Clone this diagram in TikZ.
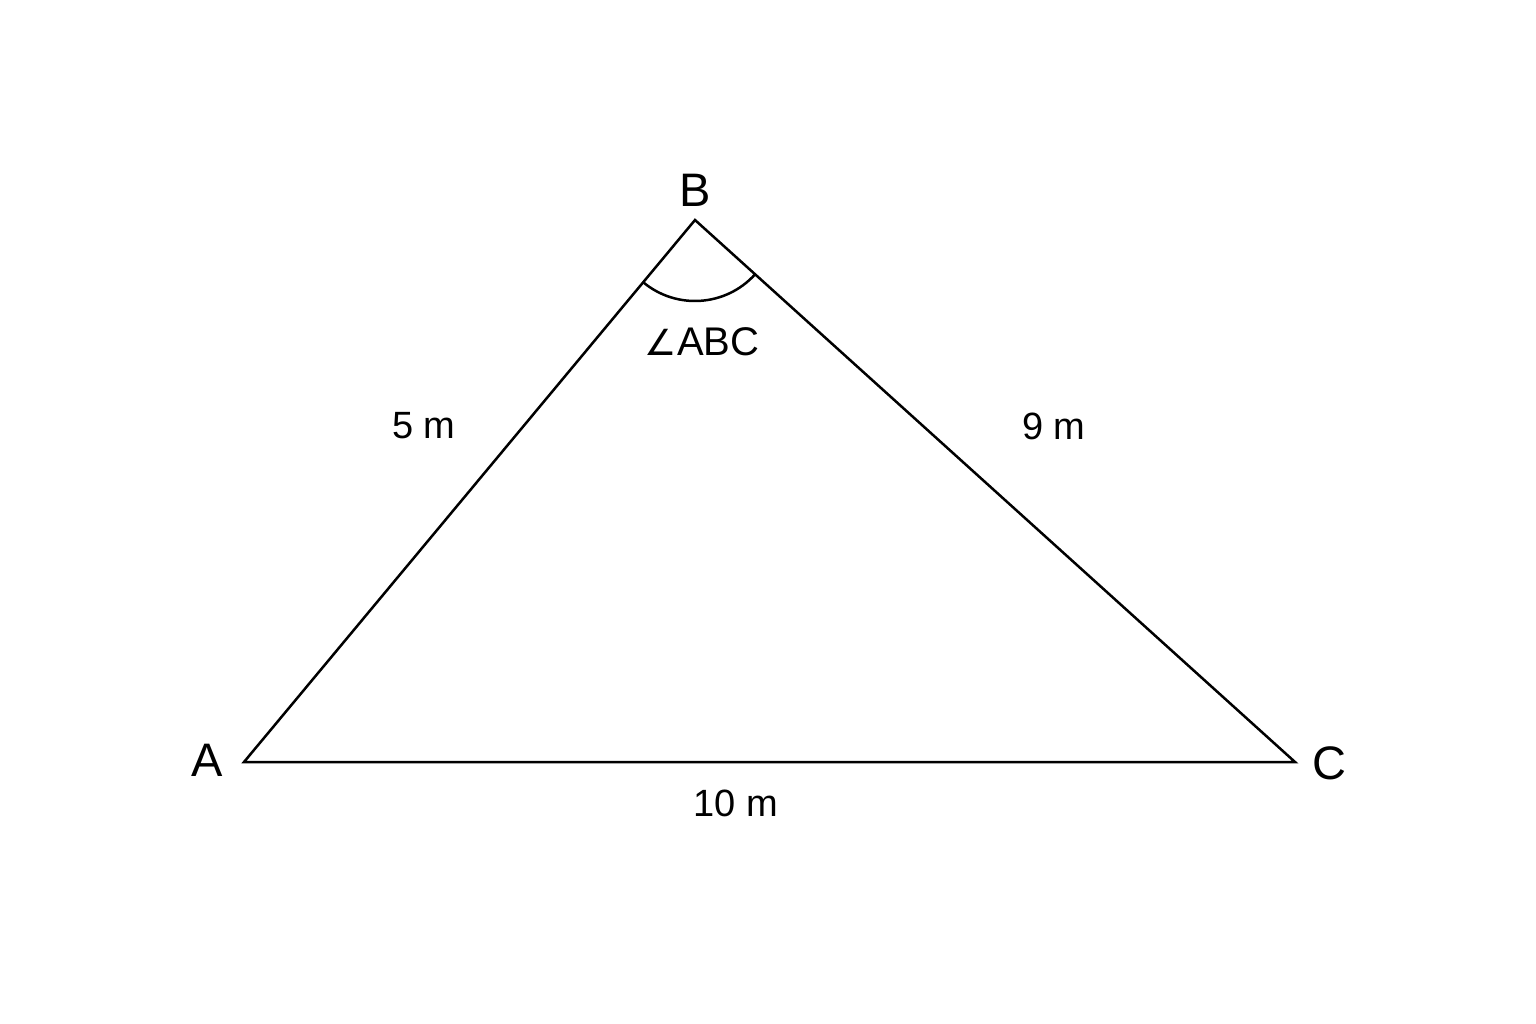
\documentclass[tikz,border=0pt]{standalone}
\usepackage{fontspec}
\setmainfont{Liberation Sans}
\newfontfamily\symfont{DejaVu Sans}
\begin{document}
\begin{tikzpicture}[x=1pt,y=-1pt,
  edge/.style={line width=2.5pt,line join=miter},
  vlabel/.style={font=\fontsize{47}{50}\selectfont,inner sep=0pt},
  slabel/.style={font=\fontsize{38}{40}\selectfont,inner sep=0pt}]
\useasboundingbox[fill=white] (0,0) rectangle (1536,1024);
\coordinate (A) at (244,762);
\coordinate (B) at (695,220);
\coordinate (C) at (1295,762);
\draw[edge] (A) -- (B) -- (C) -- cycle;
\draw[line width=2.5pt] (B) ++(129.8:81) arc[start angle=129.8,end angle=42.1,radius=81];
\node[vlabel] (lB) at (695,190) {B};
\node[vlabel] (lA) at (207,760) {A};
\node[vlabel] (lC) at (1329,763) {C};
\node[slabel] (s5) at (424,426) {5 m};
\node[slabel] (s9) at (1054,426) {9 m};
\node[slabel] (s10) at (736,803) {10 m};
\node[slabel,font=\fontsize{40}{42}\selectfont] (ang) at (702,342) {{\symfont\fontsize{36}{40}\selectfont ∠}ABC};
\end{tikzpicture}
\end{document}
